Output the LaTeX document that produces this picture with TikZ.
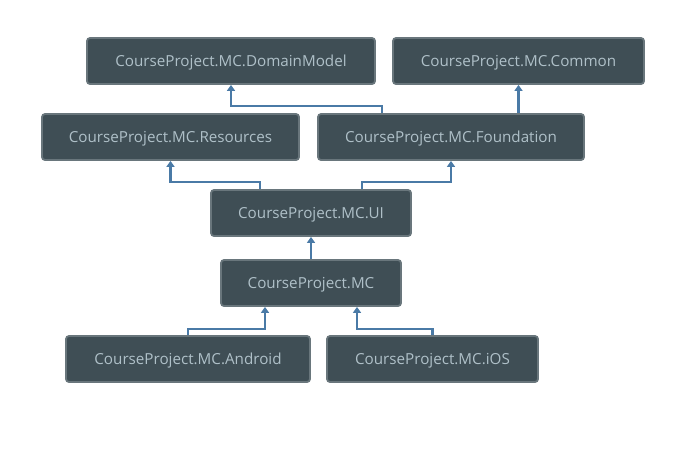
\documentclass[tikz,border=0pt]{standalone}
\usepackage{fontspec}
\setmainfont{Open Sans}
\usetikzlibrary{arrows.meta,calc}
\definecolor{boxfill}{HTML}{3F4E55}
\definecolor{boxline}{HTML}{69767C}
\definecolor{boxtext}{HTML}{AFC0C8}
\definecolor{conn}{HTML}{4A7AA6}
\begin{document}
\begin{tikzpicture}[x=1pt,y=-1pt,
  box/.style={draw=boxline,fill=boxfill,line width=1.8pt,rounded corners=3pt,
    minimum height=46pt,inner sep=0pt,text height=13pt,text depth=3pt,
    text=boxtext,font=\fontsize{15.2}{18}\selectfont},
  link/.style={draw=conn,line width=2.2pt,-{Triangle[width=8pt,length=6pt,fill=conn]}}]
\useasboundingbox (0,0) rectangle (686,464);
\node[box,minimum width=288pt] (dm) at (231,61) {CourseProject.MC.DomainModel};
\node[box,minimum width=251pt] (cm) at (518.5,61) {CourseProject.MC.Common};
\node[box,minimum width=257pt] (res) at (170.5,137) {CourseProject.MC.Resources};
\node[box,minimum width=266pt] (fnd) at (451,137) {CourseProject.MC.Foundation};
\node[box,minimum width=200pt] (ui) at (311,213) {CourseProject.MC.UI};
\node[box,minimum width=180pt] (mc) at (311,283) {CourseProject.MC};
\node[box,minimum width=244pt] (and) at (188,359) {CourseProject.MC.Android};
\node[box,minimum width=211pt] (ios) at (432.5,359) {CourseProject.MC.iOS};
\draw[link] ([xshift=65pt]fnd.north west) -- ++(0,-7) -| (dm.south);
\draw[link] (fnd.north -| cm.south) -- (cm.south);
\draw[link] ([xshift=50pt]ui.north west) -- ++(0,-7) -| (res.south);
\draw[link] ([xshift=-50pt]ui.north east) -- ++(0,-7) -| (fnd.south);
\draw[link] (mc.north) -- (ui.south);
\draw[link] (and.north) -- ++(0,-6) -| ([xshift=-46pt]mc.south);
\draw[link] (ios.north) -- ++(0,-6) -| ([xshift=46pt]mc.south);
\end{tikzpicture}
\end{document}
